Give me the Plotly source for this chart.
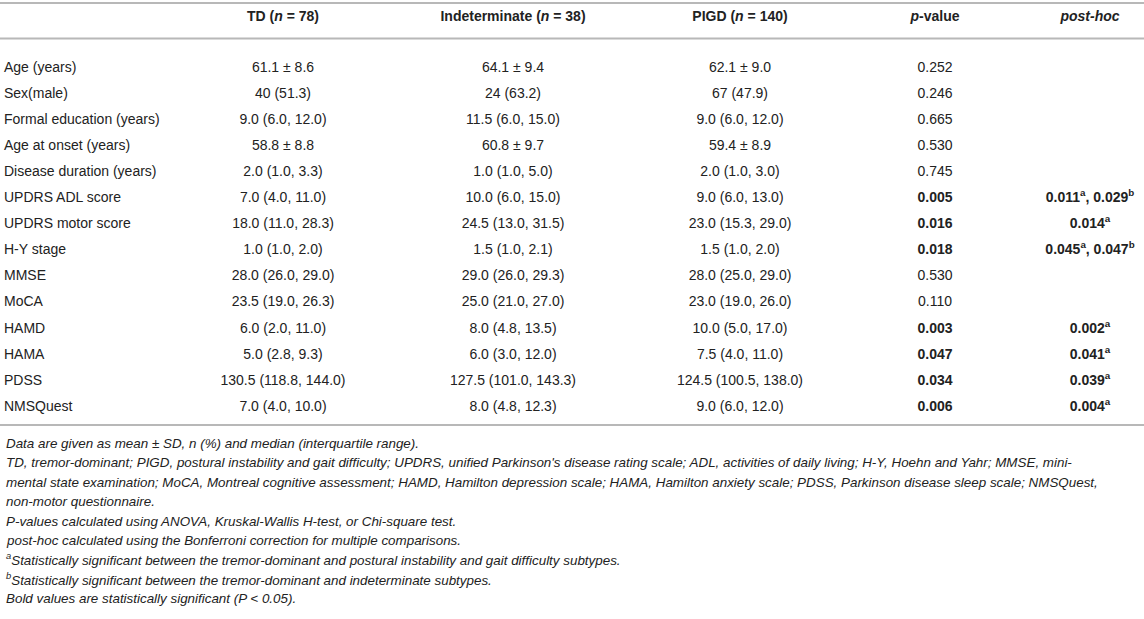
import plotly.graph_objects as go

# table content
variables = ["Age (years)", "Sex(male)", "Formal education (years)", "Age at onset (years)",
             "Disease duration (years)", "UPDRS ADL score", "UPDRS motor score", "H-Y stage",
             "MMSE", "MoCA", "HAMD", "HAMA", "PDSS", "NMSQuest"]
td = ["61.1 ± 8.6", "40 (51.3)", "9.0 (6.0, 12.0)", "58.8 ± 8.8", "2.0 (1.0, 3.3)",
      "7.0 (4.0, 11.0)", "18.0 (11.0, 28.3)", "1.0 (1.0, 2.0)", "28.0 (26.0, 29.0)",
      "23.5 (19.0, 26.3)", "6.0 (2.0, 11.0)", "5.0 (2.8, 9.3)", "130.5 (118.8, 144.0)",
      "7.0 (4.0, 10.0)"]
indeterminate = ["64.1 ± 9.4", "24 (63.2)", "11.5 (6.0, 15.0)", "60.8 ± 9.7", "1.0 (1.0, 5.0)",
                 "10.0 (6.0, 15.0)", "24.5 (13.0, 31.5)", "1.5 (1.0, 2.1)", "29.0 (26.0, 29.3)",
                 "25.0 (21.0, 27.0)", "8.0 (4.8, 13.5)", "6.0 (3.0, 12.0)", "127.5 (101.0, 143.3)",
                 "8.0 (4.8, 12.3)"]
pigd = ["62.1 ± 9.0", "67 (47.9)", "9.0 (6.0, 12.0)", "59.4 ± 8.9", "2.0 (1.0, 3.0)",
        "9.0 (6.0, 13.0)", "23.0 (15.3, 29.0)", "1.5 (1.0, 2.0)", "28.0 (25.0, 29.0)",
        "23.0 (19.0, 26.0)", "10.0 (5.0, 17.0)", "7.5 (4.0, 11.0)", "124.5 (100.5, 138.0)",
        "9.0 (6.0, 12.0)"]
p_values = [0.252, 0.246, 0.665, 0.530, 0.745, 0.005, 0.016, 0.018, 0.530, 0.110,
            0.003, 0.047, 0.034, 0.006]
post_hoc = ["", "", "", "", "",
            "0.011<sup>a</sup>, 0.029<sup>b</sup>", "0.014<sup>a</sup>",
            "0.045<sup>a</sup>, 0.047<sup>b</sup>", "", "",
            "0.002<sup>a</sup>", "0.041<sup>a</sup>", "0.039<sup>a</sup>", "0.004<sup>a</sup>"]
headers = ["TD (<i>n</i> = 78)", "Indeterminate (<i>n</i> = 38)", "PIGD (<i>n</i> = 140)",
           "<i>p</i>-value", "<i>post-hoc</i>"]
notes = [
    "Data are given as mean ± SD, n (%) and median (interquartile range).",
    "TD, tremor-dominant; PIGD, postural instability and gait difficulty; UPDRS, unified Parkinson's disease rating scale; ADL, activities of daily living; H-Y, Hoehn and Yahr; MMSE, mini-",
    "mental state examination; MoCA, Montreal cognitive assessment; HAMD, Hamilton depression scale; HAMA, Hamilton anxiety scale; PDSS, Parkinson disease sleep scale; NMSQuest,",
    "non-motor questionnaire.",
    "P-values calculated using ANOVA, Kruskal-Wallis H-test, or Chi-square test.",
    "post-hoc calculated using the Bonferroni correction for multiple comparisons.",
    "<sup>a</sup>Statistically significant between the tremor-dominant and postural instability and gait difficulty subtypes.",
    "<sup>b</sup>Statistically significant between the tremor-dominant and indeterminate subtypes.",
    "Bold values are statistically significant (P < 0.05).",
]

# layout (pixel positions of the columns, row units on y)
col_x = [283, 513, 740, 935, 1090]
label_x = 4
row_px, row_step = 68, 26.1
header_y = -1.92
note_y0, note_step = 14.38, 0.745
FONT = "Liberation Sans, Arial, sans-serif"
INK = "#222222"
RULE = "#b8b8b8"
SIZE = 14
NOTE_SIZE = 13.4

rows = list(range(len(variables)))
p_text = ["<b>%.3f</b>" % p if p < 0.05 else "%.3f" % p for p in p_values]
ph_rows = [r for r, s in zip(rows, post_hoc) if s]
ph_text = ["<b>%s</b>" % post_hoc[r] for r in ph_rows]

fig = go.Figure()

def add_col(x, ys, texts, pos="middle center"):
    fig.add_trace(go.Scatter(x=[x] * len(ys), y=ys, text=texts, mode="text",
                             textposition=pos, hoverinfo="skip",
                             textfont=dict(family=FONT, size=SIZE, color=INK)))

add_col(label_x, rows, variables, "middle right")
for x, col in zip(col_x[:4], [td, indeterminate, pigd, p_text]):
    add_col(x, rows, col)
add_col(col_x[4], ph_rows, ph_text)
for x, h in zip(col_x, headers):
    add_col(x, [header_y], ["<b>%s</b>" % h])

for i, n in enumerate(notes):
    fig.add_annotation(x=label_x, y=note_y0 + i * note_step, xref="x", yref="y",
                       text="<i>%s</i>" % n, showarrow=False, xanchor="left",
                       yanchor="middle", font=dict(family=FONT, size=NOTE_SIZE, color=INK))

for yy in [-2.49, -1.13, 13.68]:
    fig.add_shape(type="line", xref="paper", x0=0, x1=1, yref="y", y0=yy, y1=yy,
                  line=dict(color=RULE, width=2))

fig.update_layout(
    width=1144, height=619, margin=dict(l=0, r=0, t=0, b=0),
    paper_bgcolor="white", plot_bgcolor="white", showlegend=False,
    xaxis=dict(range=[0, 1144], visible=False, fixedrange=True),
    yaxis=dict(range=[(619 - row_px) / row_step, -row_px / row_step], visible=False,
               fixedrange=True),
)
fig.write_html("out.html", config={"displayModeBar": False},
               post_script="document.body.style.margin='0';")
